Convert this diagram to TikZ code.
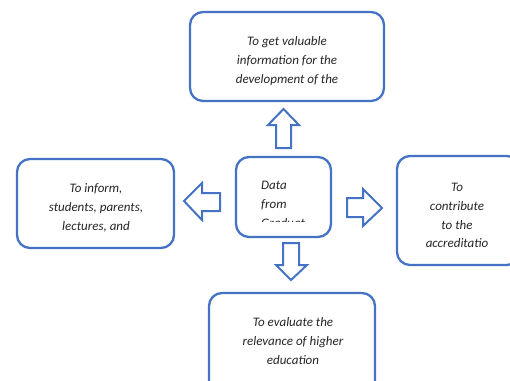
\documentclass[tikz,border=0pt]{standalone}
\usepackage{fontspec}
\setmainfont{Carlito}
\definecolor{boxblue}{HTML}{4472C4}
\definecolor{txtgray}{HTML}{262626}
\tikzset{
  roundbox/.style={draw=boxblue, line width=2.3pt, rounded corners=13pt, fill=white},
  blockarrow/.style={draw=boxblue, line width=2pt, fill=white, line join=miter},
  lbl/.style={font=\fontsize{13}{18.8}\selectfont\itshape, text=txtgray, align=center, inner sep=0pt}
}
\begin{document}
\begin{tikzpicture}[x=1pt,y=-1pt]
\useasboundingbox (0,0) rectangle (510,380);
\clip (0,0) rectangle (510,380);
% boxes
\draw[roundbox] (190,12) rectangle (384,101) coordinate (topbox);
\draw[roundbox] (17,159) rectangle (174,248) coordinate (leftbox);
\draw[roundbox] (236,157) rectangle (331,237) coordinate (centerbox);
\draw[roundbox] (397,156) rectangle (520,265) coordinate (rightbox);
\draw[roundbox] (209,293) rectangle (375,400) coordinate (bottombox);
% texts
\node[lbl] (ttop) at (287,61) {To get valuable\\information for the\\development of the};
\node[lbl] (tleft) at (96,208) {To inform,\\students, parents,\\lectures, and};
\node[lbl] (tright) at (457,215.5) {To\\contribute\\to the\\accreditatio};
\node[lbl] (tbottom) at (293,341) {To evaluate the\\relevance of higher\\education};
\begin{scope}
\clip (238,159) rectangle (329,221.5);
\node[lbl, align=left, anchor=north west] (tcenter) at (261,181) {Data\\from\\Graduat};
\end{scope}
% block arrows
\draw[blockarrow] (276,148) -- (276,125) -- (268,125) -- (283.5,109) -- (299,125) -- (291,125) -- (291,148) -- cycle;
\draw[blockarrow] (220,193) -- (202,193) -- (202,183) -- (184,201) -- (202,220) -- (202,211) -- (220,211) -- cycle;
\draw[blockarrow] (347,198) -- (363,198) -- (363,189) -- (382,208) -- (363,226) -- (363,217) -- (347,217) -- cycle;
\draw[blockarrow] (283,243) -- (299,243) -- (299,265) -- (307,265) -- (291,280) -- (276,265) -- (283,265) -- cycle;
\end{tikzpicture}
\end{document}
